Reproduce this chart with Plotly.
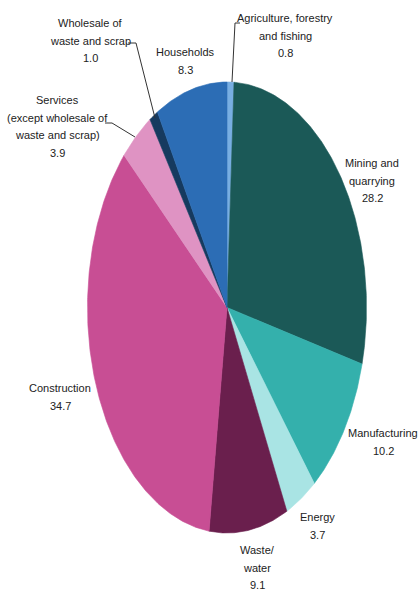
import numpy as np
import plotly.graph_objects as go

# ---- data ----
categories = [
    "Agriculture, forestry<br>and fishing",
    "Mining and<br>quarrying",
    "Manufacturing",
    "Energy",
    "Waste/<br>water",
    "Construction",
    "Services<br>(except wholesale of<br>waste and scrap)",
    "Wholesale of<br>waste and scrap",
    "Households",
]
values = [0.8, 28.2, 10.2, 3.7, 9.1, 34.7, 3.9, 1.0, 8.3]
colors = ["#78aee2", "#1b5957", "#34b0ac", "#a9e4e4", "#6a1f4d",
          "#c84e94", "#df93c3", "#163a5f", "#2c6db5"]

# label anchor positions: (x centre, y of first line) in chart pixels
label_pos = [(285, 18), (372, 163), (383, 433), (317, 517), (257, 550),
             (60, 388), (57, 100), (90, 23), (185, 52)]
line_step = 17.7

W, H = 419, 594
cx, cy, rx, ry = 227, 307.5, 139.5, 225.5

fig = go.Figure()
total = sum(values)
cum = 0.0
for cat, v, col in zip(categories, values, colors):
    a0 = cum / total * 2 * np.pi
    a1 = (cum + v) / total * 2 * np.pi
    cum += v
    t = np.linspace(a0, a1, max(4, int(v * 6)))
    xs = np.concatenate([[cx], cx + rx * np.sin(t), [cx]])
    ys = np.concatenate([[cy], cy - ry * np.cos(t), [cy]])
    fig.add_trace(go.Scatter(x=xs, y=ys, mode="lines", fill="toself",
                             fillcolor=col, line=dict(color=col, width=0.6),
                             hoverinfo="text", text=f"{cat.replace('<br>', ' ')}: {v}",
                             showlegend=False))

font = dict(family="Liberation Sans, Arial, sans-serif", size=11, color="#222222")
for cat, v, (lx, ly) in zip(categories, values, label_pos):
    lines = cat.split("<br>") + [f"{v:.1f}"]
    for i, ln in enumerate(lines):
        fig.add_annotation(x=lx, y=ly + i * line_step, text=ln, showarrow=False,
                           xanchor="center", yanchor="middle", align="center",
                           font=font)

# leader lines
leaders = [
    [(240, 23), (235, 23), (232, 82)],      # agriculture
    [(128, 43), (136, 43), (155, 118)],     # wholesale
    [(105, 123), (112, 123), (135, 137)],   # services
]
for pts in leaders:
    fig.add_trace(go.Scatter(x=[p[0] for p in pts], y=[p[1] for p in pts],
                             mode="lines", line=dict(color="#333333", width=1),
                             hoverinfo="skip", showlegend=False))

fig.update_layout(
    width=W, height=H, margin=dict(l=0, r=0, t=0, b=0),
    paper_bgcolor="white", plot_bgcolor="white",
    xaxis=dict(range=[0, W], visible=False, fixedrange=True),
    yaxis=dict(range=[H, 0], visible=False, fixedrange=True),
)
fig.write_html("out.html")
